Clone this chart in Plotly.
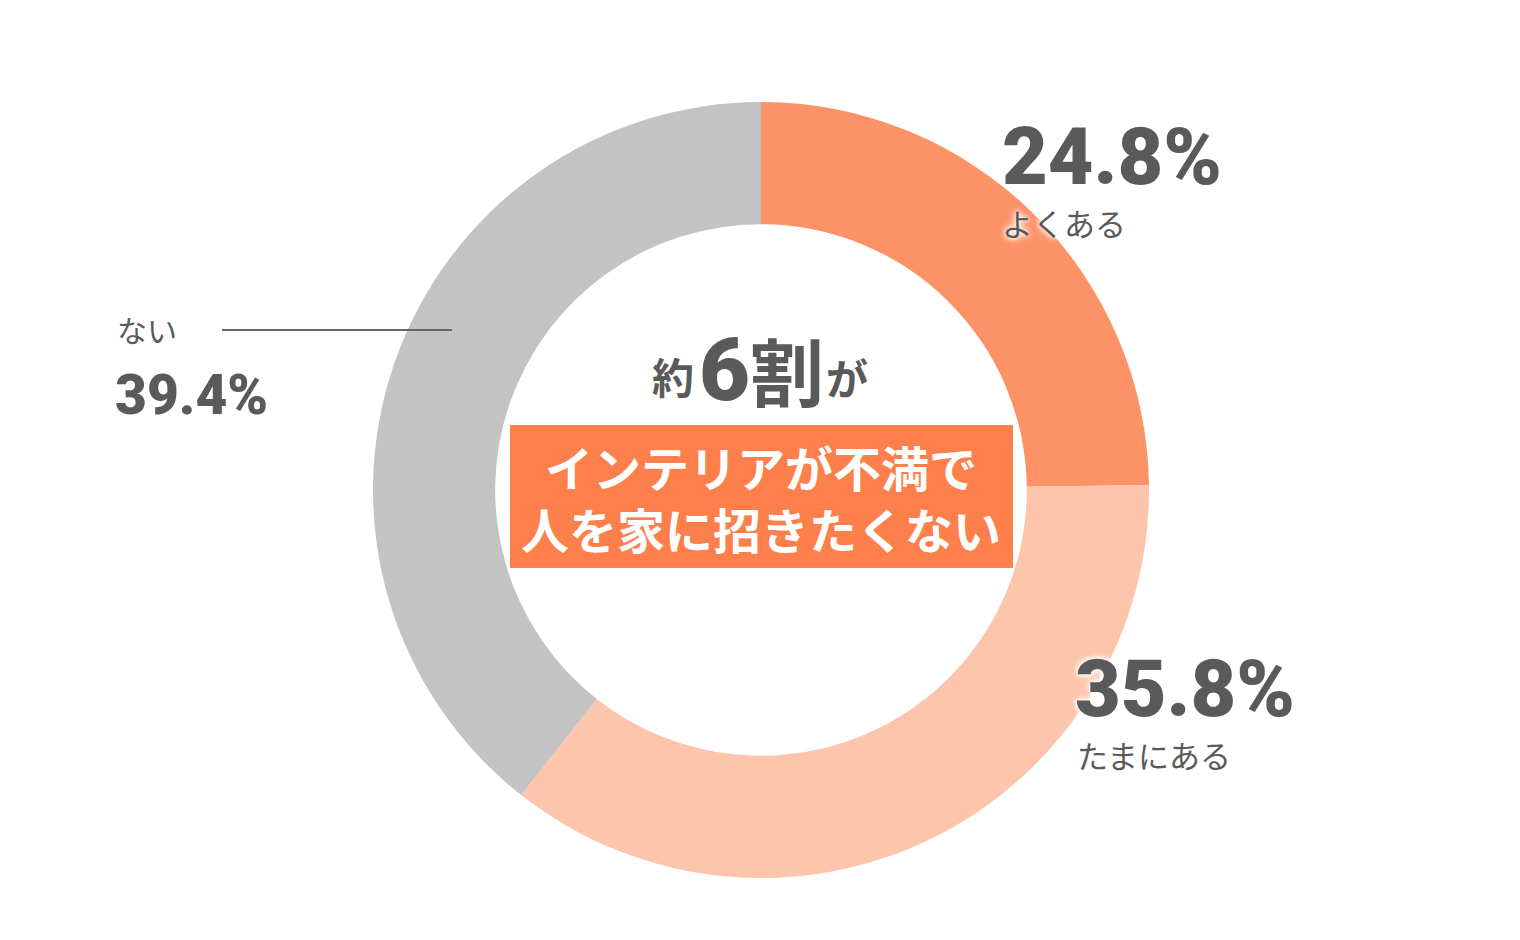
import plotly.graph_objects as go

W, H = 1520, 940

labels = ["よくある", "たまにある", "ない"]
values = [24.8, 35.8, 39.4]
colors = ["#FC9266", "#FCC5AC", "#C3C3C3"]
center_top = ["約", "6", "割", "が"]
center_box_lines = ["インテリアが不満で", "人を家に招きたくない"]

cx, cy, R = 761, 490, 388
GRAY = "#5A5A5A"
JP = "Noto Sans CJK JP"
NUM = "Roboto"


def px(x):
    return x / W


def py(y):
    return 1 - y / H


fig = go.Figure(go.Pie(
    labels=labels, values=values, sort=False, direction="clockwise",
    rotation=0, hole=0.685, textinfo="none", hoverinfo="skip",
    marker=dict(colors=colors, line=dict(width=0)),
    domain=dict(x=[px(cx - R), px(cx + R)], y=[py(cy + R), py(cy - R)]),
    showlegend=False,
))

annotations = []
glow = "0px 0px 4px white, 0px 0px 6px white, 0px 0px 8px white"


def ann(x, y, text, size, color=GRAY, family=JP, weight="normal", xanchor="left", shadow=None):
    f = dict(size=size, color=color, family=family, weight=weight)
    if shadow:
        f["shadow"] = shadow
    annotations.append(dict(x=px(x), y=py(y), xref="paper", yref="paper", text=text,
                            showarrow=False, xanchor=xanchor, yanchor="middle", font=f))


# slice labels
ann(1000, 157, f"{values[0]}%", 79, family=NUM, weight=900)
ann(1000, 222, labels[0], 31, shadow=glow)
ann(1073, 689, f"{values[1]}%", 79, family=NUM, weight=900, shadow=glow)
ann(1075, 754, labels[1], 31)
ann(115, 329, labels[2], 30)
ann(113, 395, f"{values[2]}%", 55, family=NUM, weight=900)

# center text: 約 6 割 が
ann(673, 375, center_top[0], 42, weight="bold", xanchor="center")
ann(724, 370, center_top[1], 88, family=NUM, weight=900, xanchor="center")
ann(787, 368, center_top[2], 74, weight="bold", xanchor="center")
ann(847, 376, center_top[3], 42, weight="bold", xanchor="center")

ann(761, 497, "<br>".join(center_box_lines), 48, color="white", weight="bold", xanchor="center")

shapes = [
    dict(type="rect", xref="paper", yref="paper", x0=px(510), x1=px(1013), y0=py(568), y1=py(425),
         fillcolor="#FD7F4B", line=dict(width=0), layer="below"),
    dict(type="line", xref="paper", yref="paper", x0=px(222), x1=px(452), y0=py(330), y1=py(330),
         line=dict(color="#666666", width=2)),
]

fig.update_layout(
    width=W, height=H, margin=dict(l=0, r=0, t=0, b=0),
    paper_bgcolor="white", plot_bgcolor="white",
    annotations=annotations, shapes=shapes,
)
fig.write_html("out.html")
